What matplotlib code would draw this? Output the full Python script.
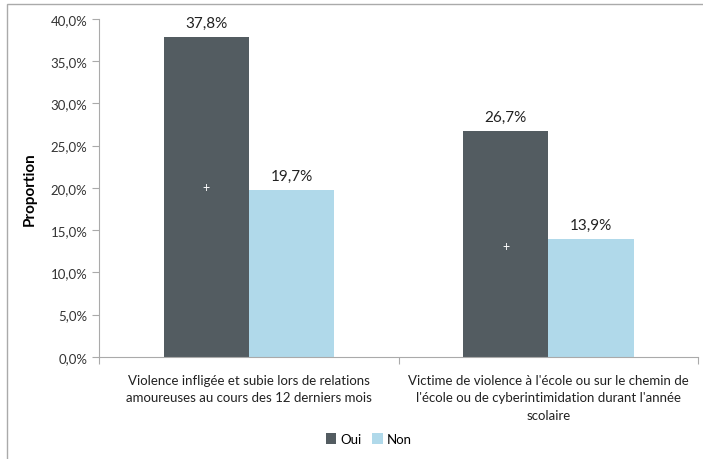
import matplotlib
matplotlib.use('Agg')
import matplotlib.pyplot as plt
import numpy as np
from matplotlib.patches import Rectangle

categories = ["Violence infligée et subie lors de relations\namoureuses au cours des 12 derniers mois",
              "Victime de violence à l'école ou sur le chemin de\nl'école ou de cyberintimidation durant l'année\nscolaire"]
oui = [37.8, 26.7]
non = [19.7, 13.9]
plus_y = [20.1, 13.1]
yticks = [0, 5, 10, 15, 20, 25, 30, 35, 40]

plt.rcParams['font.family'] = ['Lato', 'DejaVu Sans']

fig = plt.figure(figsize=(7.03, 4.60), dpi=100)
ax = fig.add_axes([0.141, 0.222, 0.852, 0.735])

x = np.arange(len(categories))
w = 0.285
c_oui = '#535c61'
c_non = '#b0d9ea'
ax.bar(x - w/2, oui, w, color=c_oui, label='Oui')
ax.bar(x + w/2, non, w, color=c_non, label='Non')

for i in range(len(categories)):
    ax.text(x[i] - w/2, oui[i] + 0.9, f"{oui[i]:.1f}%".replace('.', ','), ha='center', va='bottom',
            fontsize=11, color='#222222')
    ax.text(x[i] + w/2, non[i] + 0.9, f"{non[i]:.1f}%".replace('.', ','), ha='center', va='bottom',
            fontsize=11, color='#222222')
    ax.text(x[i] - w/2, plus_y[i], '+', ha='center', va='center', color='white', fontsize=9)

ax.set_xlim(-0.5, 1.5)
ax.set_ylim(0, 40)
ax.set_yticks(yticks)
ax.set_yticklabels([f"{t:.1f}%".replace('.', ',') for t in yticks], fontsize=9.5, color='#333333')
ax.set_xticks([-0.5, 0.5, 1.5], minor=False)
ax.set_xticklabels([])
ax.set_xticks(x, minor=True)
ax.set_xticklabels(categories, minor=True, fontsize=9.5, color='#222222', linespacing=1.55)
ax.tick_params(axis='x', which='minor', length=0, pad=12)
ax.tick_params(axis='x', which='major', length=5, color='#aaaaaa')
ax.tick_params(axis='y', length=5, color='#aaaaaa')
for s in ['top', 'right']:
    ax.spines[s].set_visible(False)
for s in ['left', 'bottom']:
    ax.spines[s].set_color('#aaaaaa')
ax.set_ylabel('Proportion', fontsize=11, fontweight='bold', labelpad=10)

ax.legend(loc='center', bbox_to_anchor=(0.45, -0.243), ncol=2, frameon=False, fontsize=9.5,
          handlelength=0.8, handleheight=0.8, handletextpad=0.3, columnspacing=0.8)

fig.patches.append(Rectangle((7/703, -0.01), 1.0, 1 - 5/460 + 0.01, transform=fig.transFigure,
                             fill=False, edgecolor='#aaaaaa', linewidth=1))

fig.savefig('out.png', dpi=100)
